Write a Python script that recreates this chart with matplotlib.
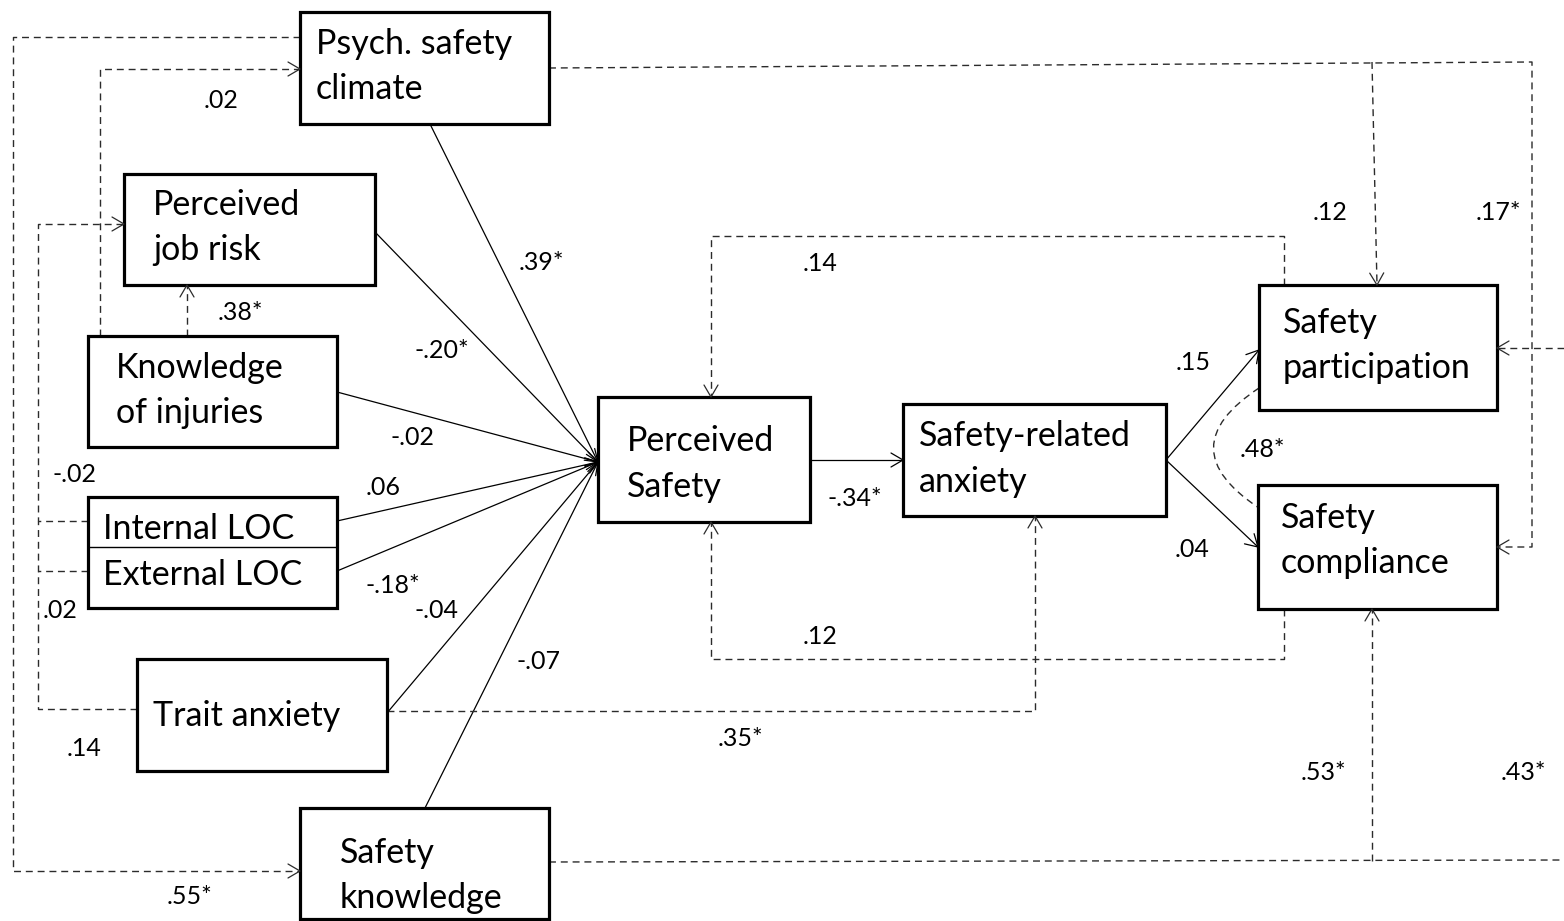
"""Path diagram: perceived safety model with standardised path coefficients."""

import numpy as np
import matplotlib

matplotlib.use("Agg")

import matplotlib.pyplot as plt  # noqa: E402
from matplotlib.patches import Rectangle, PathPatch  # noqa: E402
from matplotlib.path import Path  # noqa: E402

plt.rcParams["font.family"] = ["Lato", "DejaVu Sans"]

# ---- data -----------------------------------------------------------------
box_names = [
    "psych", "jobrisk", "knowinj", "loc", "trait", "safeknow",
    "percsafe", "anxiety", "particip", "complian",
]
box_labels = [
    ["Psych. safety", "climate"],
    ["Perceived", "job risk"],
    ["Knowledge", "of injuries"],
    ["Internal LOC", "External LOC"],
    ["Trait anxiety"],
    ["Safety", "knowledge"],
    ["Perceived", "Safety"],
    ["Safety-related", "anxiety"],
    ["Safety", "participation"],
    ["Safety", "compliance"],
]

# path coefficients, in drawing order of coef_pos below
coef_labels = [
    ".02", ".38*", ".39*", "-.20*", "-.02", "-.02", ".06", "-.18*", ".02",
    "-.04", "-.07", ".14", ".55*", ".35*", ".14", ".12", "-.34*", ".15",
    ".04", ".48*", ".12", ".17*", ".53*", ".43*",
]

# ---- layout (pixel coordinates, y down) -------------------------------------
W, H = 1564, 921
box_rect = {
    "psych": (300, 12, 549, 124),
    "jobrisk": (124, 174, 375, 285),
    "knowinj": (88, 336, 337, 447),
    "loc": (88, 497, 337, 608),
    "trait": (137, 659, 387, 771),
    "safeknow": (300, 808, 549, 919),
    "percsafe": (598, 397, 810, 522),
    "anxiety": (903, 404, 1166, 516),
    "particip": (1259, 285, 1497, 410),
    "complian": (1258, 485, 1497, 609),
}
# left x of text and y of each line
box_text = {
    "psych": (316, [44, 89]),
    "jobrisk": (153, [205, 250]),
    "knowinj": (116, [368, 413]),
    "loc": (103, [529, 575]),
    "trait": (153, [716]),
    "safeknow": (340, [853, 898]),
    "percsafe": (627, [441, 487]),
    "anxiety": (919, [436, 482]),
    "particip": (1283, [323, 368]),
    "complian": (1281, [518, 563]),
}
coef_pos = [
    (221, 101), (240, 312), (541, 262), (442, 350), (412, 437), (75, 474),
    (383, 487), (393, 585), (60, 610), (437, 610), (539, 661), (84, 748),
    (190, 896), (740, 738), (820, 263), (820, 636), (855, 498), (1193, 362),
    (1192, 549), (1262, 449), (1330, 212), (1498, 212), (1323, 772),
    (1523, 772),
]

HUB = (598, 462)
solid_paths = [
    [(430, 124), HUB],
    [(375, 232), HUB],
    [(337, 392), HUB],
    [(337, 521), HUB],
    [(337, 571), HUB],
    [(387, 713), HUB],
    [(425, 808), HUB],
    [(810, 460), (903, 460)],
    [(1166, 460), (1259, 350)],
    [(1166, 460), (1258, 547)],
]
# (points, has_arrow)
dashed_paths = [
    ([(300, 37), (13, 37), (13, 871), (300, 871)], True),
    ([(100, 336), (100, 69), (300, 69)], True),
    ([(187, 336), (187, 285)], True),
    ([(88, 521), (38, 521), (38, 224), (124, 224)], True),
    ([(88, 571), (38, 571)], False),
    ([(137, 709), (38, 709), (38, 521)], False),
    ([(549, 68), (1532, 62), (1532, 547), (1497, 547)], True),
    ([(1372, 62), (1377, 285)], True),
    ([(1284, 285), (1284, 236), (711, 236), (711, 397)], True),
    ([(1284, 609), (1284, 659), (711, 659), (711, 522)], True),
    ([(387, 711), (1035, 711), (1035, 516)], True),
    ([(549, 862), (1564, 860)], False),
    ([(1372, 861), (1372, 609)], True),
    ([(1564, 348), (1497, 348)], True),
]

BOX_LW = 2.3
LINE_LW = 0.9
DASH_LW = 1.0
DASH = (0, (5, 3.5))
DASH_COLOR = "#2b2b2b"


def arrow_head(ax, p_from, p_to, color="black", length=12, half_width=7):
    p_from = np.asarray(p_from, float)
    p_to = np.asarray(p_to, float)
    d = p_to - p_from
    d /= np.hypot(*d)
    n = np.array([-d[1], d[0]])
    base = p_to - d * length
    a = base + n * half_width
    b = base - n * half_width
    ax.plot([a[0], p_to[0], b[0]], [a[1], p_to[1], b[1]],
            color=color, lw=LINE_LW, solid_capstyle="round", zorder=4)


fig = plt.figure(figsize=(W / 100, H / 100), dpi=100)
ax = fig.add_axes([0, 0, 1, 1])
ax.set_xlim(0, W)
ax.set_ylim(H, 0)
ax.axis("off")

for pts in solid_paths:
    xs, ys = zip(*pts)
    ax.plot(xs, ys, color="black", lw=LINE_LW, zorder=2)
    arrow_head(ax, pts[-2], pts[-1])

for pts, has_arrow in dashed_paths:
    xs, ys = zip(*pts)
    ax.plot(xs, ys, color=DASH_COLOR, lw=DASH_LW, linestyle=DASH, zorder=2)
    if has_arrow:
        arrow_head(ax, pts[-2], pts[-1], color=DASH_COLOR)

# correlation between the two outcomes
curve = Path([(1259, 388), (1168, 448), (1259, 508)],
             [Path.MOVETO, Path.CURVE3, Path.CURVE3])
ax.add_patch(PathPatch(curve, fill=False, edgecolor=DASH_COLOR, lw=DASH_LW,
                       linestyle=DASH, zorder=2))

for name, lines in zip(box_names, box_labels):
    x0, y0, x1, y1 = box_rect[name]
    ax.add_patch(Rectangle((x0, y0), x1 - x0, y1 - y0, facecolor="white",
                           edgecolor="black", lw=BOX_LW, zorder=3))
    tx, tys = box_text[name]
    for txt, ty in zip(lines, tys):
        ax.text(tx, ty, txt, fontsize=24.5, ha="left", va="center", zorder=5)
    if name == "loc":
        ymid = (y0 + y1) / 2 - 6
        ax.plot([x0, x1], [ymid, ymid], color="black", lw=1.0, zorder=4)

for txt, (cx, cy) in zip(coef_labels, coef_pos):
    ax.text(cx, cy, txt, fontsize=18, ha="center", va="center", zorder=5)

fig.savefig("out.png", dpi=100, facecolor="white")
